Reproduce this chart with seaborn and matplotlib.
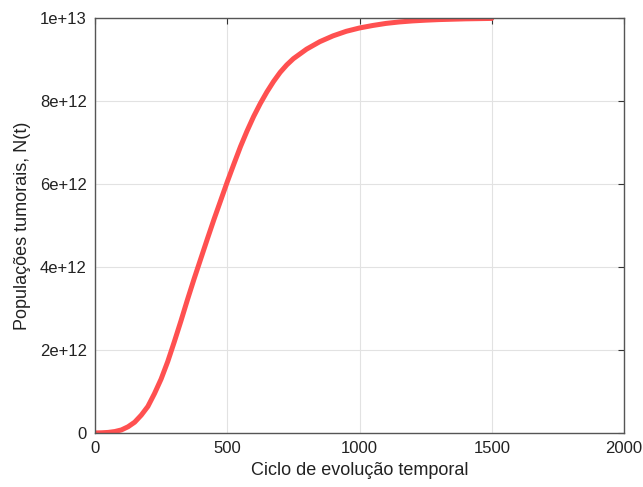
import matplotlib
matplotlib.use("Agg")
import matplotlib.pyplot as plt
import pandas as pd
import seaborn as sns

# ciclos e populacao tumoral (em unidades de 1e12)
ciclo = [0, 25, 50, 75, 100, 125, 150, 175, 200, 225, 250, 275, 300, 325,
         350, 375, 400, 425, 450, 475, 500, 525, 550, 575, 600, 625, 650,
         675, 700, 725, 750, 800, 850, 900, 950, 1000, 1050, 1100, 1150,
         1200, 1250, 1300, 1400, 1500]
populacao = [0.0014, 0.005, 0.014, 0.035, 0.074, 0.15, 0.26, 0.43, 0.64,
             0.95, 1.3, 1.72, 2.2, 2.7, 3.22, 3.72, 4.2, 4.68, 5.15, 5.6,
             6.05, 6.48, 6.9, 7.28, 7.63, 7.94, 8.22, 8.47, 8.69, 8.87, 9.02,
             9.25, 9.43, 9.57, 9.68, 9.76, 9.82, 9.87, 9.905, 9.93, 9.948,
             9.962, 9.98, 9.99]

df = pd.DataFrame({"t": ciclo, "N": [p * 1e12 for p in populacao]})

sns.set_theme(style="white")
plt.rcParams['font.family'] = ['Liberation Sans', 'DejaVu Sans']

fig = plt.figure(figsize=(6.43, 4.87), dpi=100)
ax = fig.add_axes([0.1477, 0.1109, 0.8228, 0.8521])

sns.lineplot(data=df, x="t", y="N", ax=ax, color="#ff5050", linewidth=3.6)

ax.set_xlim(0, 2000)
ax.set_ylim(0, 1e13)
ax.set_xticks([0, 500, 1000, 1500, 2000])
ax.set_yticks([0, 2e12, 4e12, 6e12, 8e12, 1e13])
ax.set_yticklabels(["0", "2e+12", "4e+12", "6e+12", "8e+12", "1e+13"])
ax.set_xticklabels(["0", "500", "1000", "1500", "2000"])

ax.grid(True, color="#e2e2e2", linewidth=0.8)
ax.set_axisbelow(True)
for s in ax.spines.values():
    s.set_color("#555555")
    s.set_linewidth(1.0)
ax.tick_params(direction="in", length=4, width=0.8, color="#333333",
               top=True, right=True, labelsize=12, labelcolor="#222222", pad=6)

ax.set_xlabel("Ciclo de evolução temporal", fontsize=13, color="#222222")
ax.set_ylabel("Populações tumorais, N(t)", fontsize=13, color="#222222",
              labelpad=6)

fig.savefig("out.png", dpi=100)
